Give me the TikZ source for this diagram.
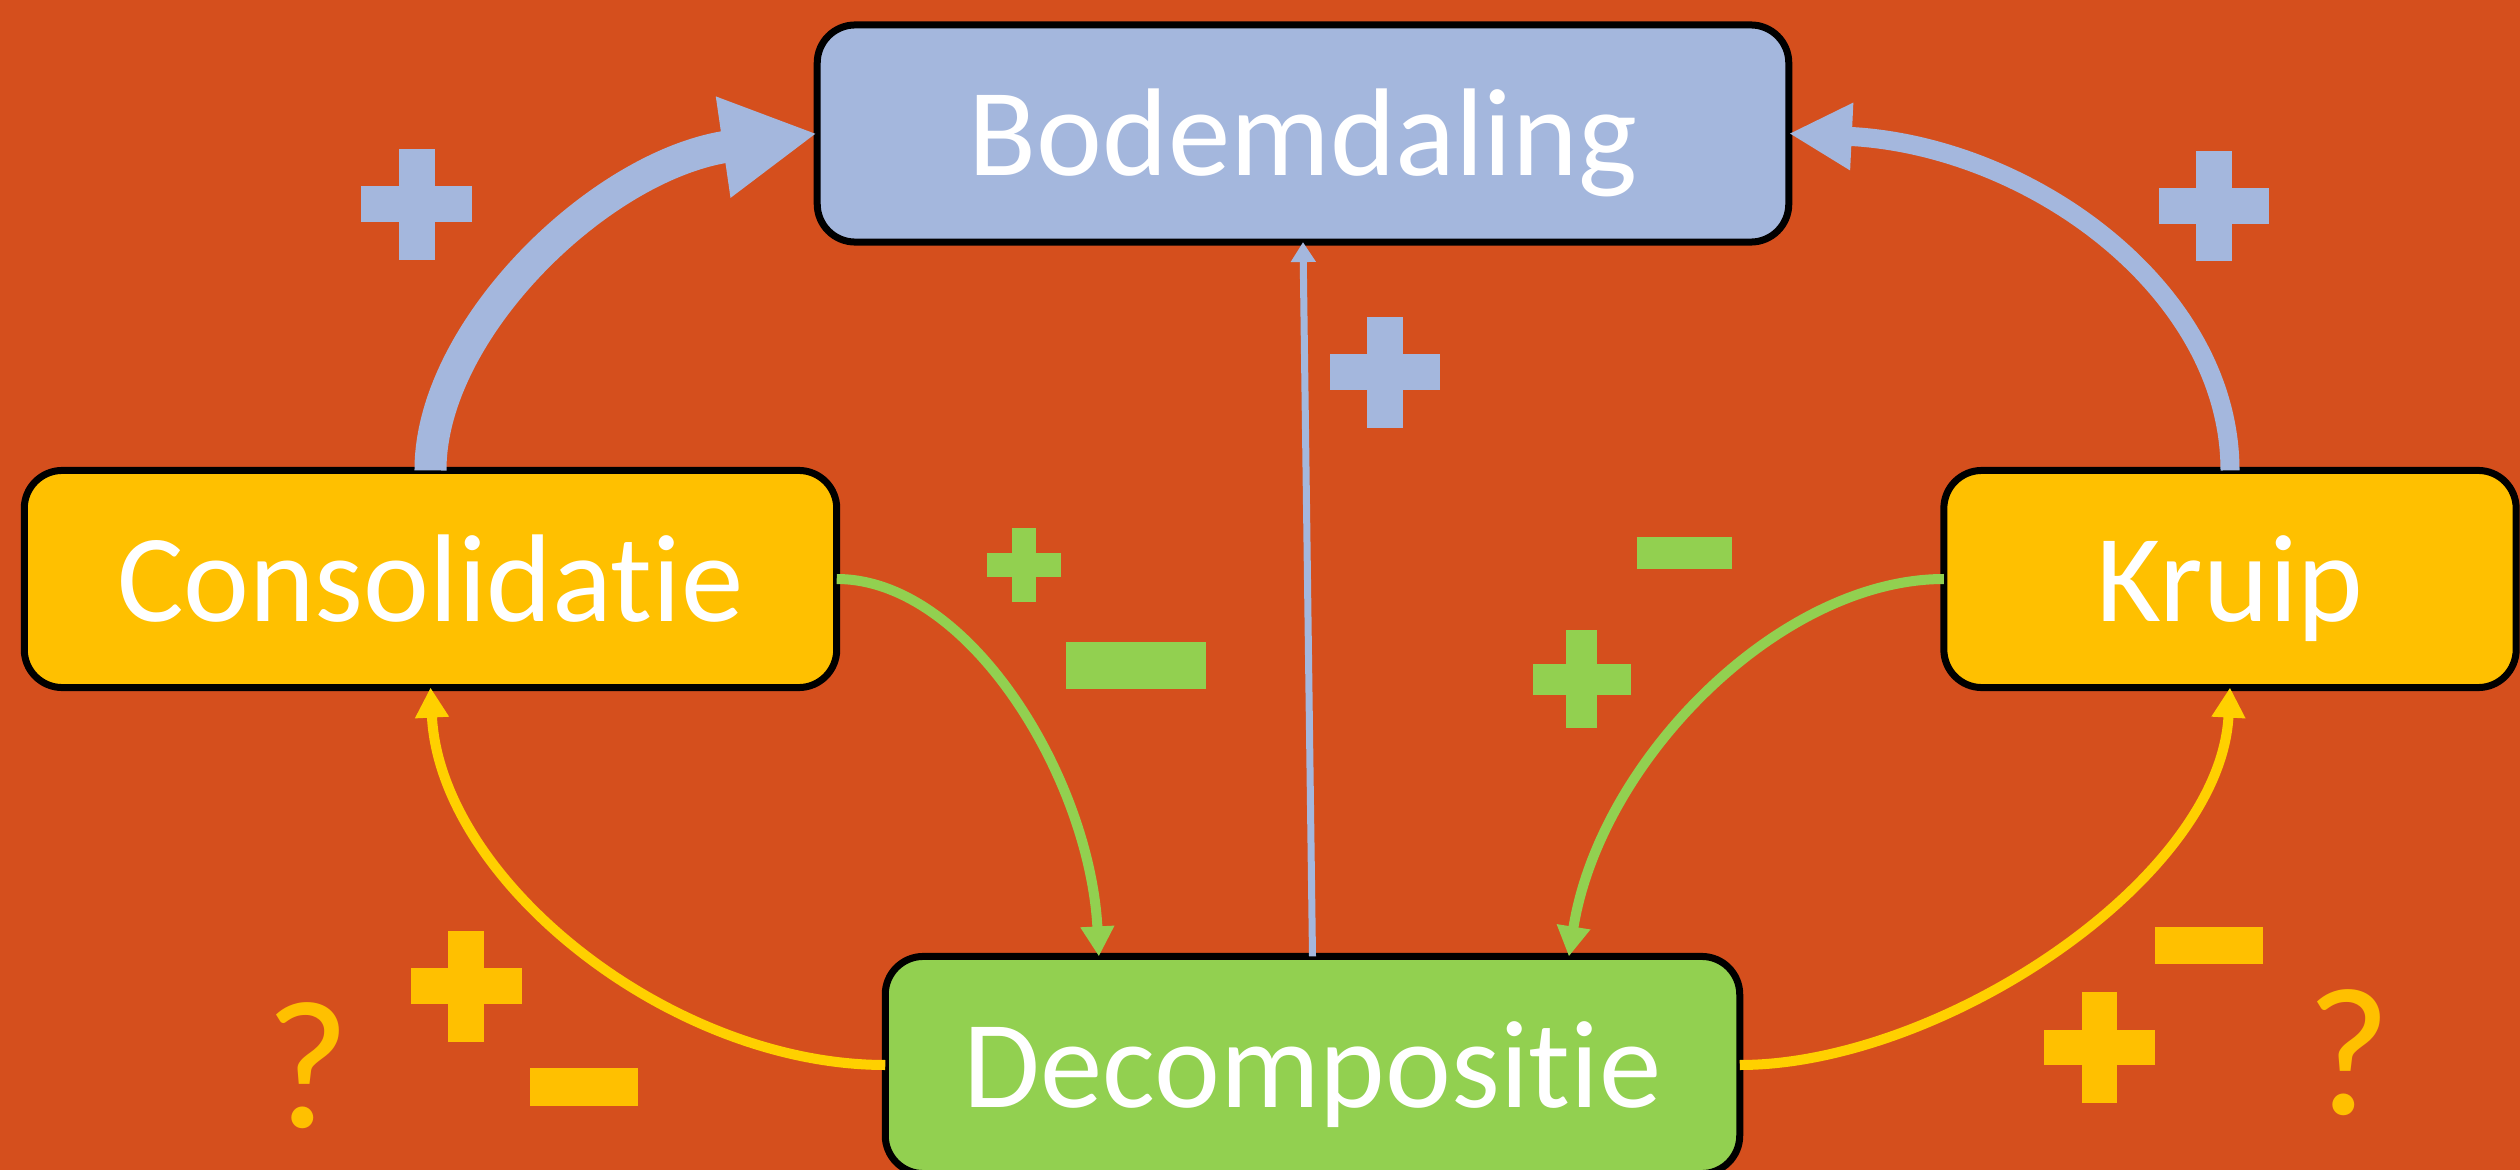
\documentclass[tikz,border=0pt]{standalone}
\usepackage{fontspec}
\setmainfont{Carlito}[Ligatures=CommonOff]
\usetikzlibrary{arrows.meta,calc}
\definecolor{bgorange}{HTML}{D54F1D}
\definecolor{lblue}{HTML}{A4B7DD}
\definecolor{gold}{HTML}{FFC000}
\definecolor{lgreen}{HTML}{92D050}
\definecolor{lineyellow}{HTML}{FFD000}
\newcommand{\plusmark}[5]{%
  \fill[#5] (#1-#3,#2-#4) rectangle (#1+#3,#2+#4);
  \fill[#5] (#1-#4,#2-#3) rectangle (#1+#4,#2+#3);}
\begin{document}
\begin{tikzpicture}[x=0.01cm,y=-0.01cm,
  box/.style={draw=black,line width=0.07cm,rounded corners=0.38cm,text=white,
    font=\fontsize{35.5pt}{40pt}\selectfont,inner sep=0pt,outer sep=0pt,
    minimum height=2.17cm,text height=0.84cm,text depth=0cm},
  bluebig/.style={draw=lblue,line width=0.32cm,-{Triangle[length=0.95cm,width=0.95cm]}},
  bluemid/.style={draw=lblue,line width=0.19cm,-{Triangle[length=0.63cm,width=0.63cm]}},
  bluethin/.style={draw=lblue,line width=0.07cm,-{Triangle[length=0.2cm,width=0.24cm]}},
  greenarrow/.style={draw=lgreen,line width=0.1cm,-{Triangle[length=0.3cm,width=0.32cm]}},
  yellowarrow/.style={draw=lineyellow,line width=0.1cm,-{Triangle[length=0.3cm,width=0.32cm]}},
  qmark/.style={text=gold,font=\fontsize{52pt}{60pt}\selectfont,inner sep=0pt,anchor=base}]
\useasboundingbox (0,0) rectangle (2520,1170);
\clip (0,0) rectangle (2520,1170);
\fill[bgorange] (0,0) rectangle (2520,1170);

% nodes
\node[box,fill=lblue,minimum width=9.71cm] (bod) at (1303,133.5) {Bodemdaling};
\node[box,fill=gold,minimum width=8.12cm] (cons) at (430.5,579) {Consolidatie};
\node[box,fill=gold,minimum width=5.72cm] (kruip) at (2230,579) {Kruip};
\node[box,fill=lgreen,minimum width=8.54cm] (dec) at (1312.5,1065) {Decompositie};

% connectors
\draw[bluebig] (cons.north) .. controls (430,330) and (600,165) .. (bod.west);
\draw[bluemid] (kruip.north) .. controls (2230,290) and (2030,145) .. (bod.east);
\draw[bluethin] (dec.north) -- (bod.south);
\draw[greenarrow] (cons.east) .. controls (970,579) and (1090,780) .. ($(dec.north)!0.5!(dec.north west)$);
\draw[greenarrow] (kruip.west) .. controls (1780,579) and (1600,760) .. ($(dec.north)!0.6!(dec.north east)$);
\draw[yellowarrow] (dec.west) .. controls (670,1065) and (440,880) .. (cons.south);
\draw[yellowarrow] (dec.east) .. controls (1940,1065) and (2220,880) .. (kruip.south);

% signs
\plusmark{416.5}{204.5}{55.5}{18}{lblue}
\plusmark{2214}{206.5}{55}{18}{lblue}
\plusmark{1385}{372.5}{55}{18}{lblue}
\plusmark{1023.5}{565}{37}{12}{lgreen}
\plusmark{1581.5}{679}{49}{15.5}{lgreen}
\plusmark{466}{986}{55.5}{18}{gold}
\plusmark{2099.5}{1047.5}{55.5}{17.5}{gold}
\fill[lgreen] (1066,642) rectangle (1206,689);
\fill[lgreen] (1637,537) rectangle (1732,569);
\fill[gold] (530,1068) rectangle (638,1106);
\fill[gold] (2155,927) rectangle (2263,964);

\node[qmark] (q1) at (308,1127) {?};
\node[qmark] (q2) at (2349,1114) {?};
\end{tikzpicture}
\end{document}
